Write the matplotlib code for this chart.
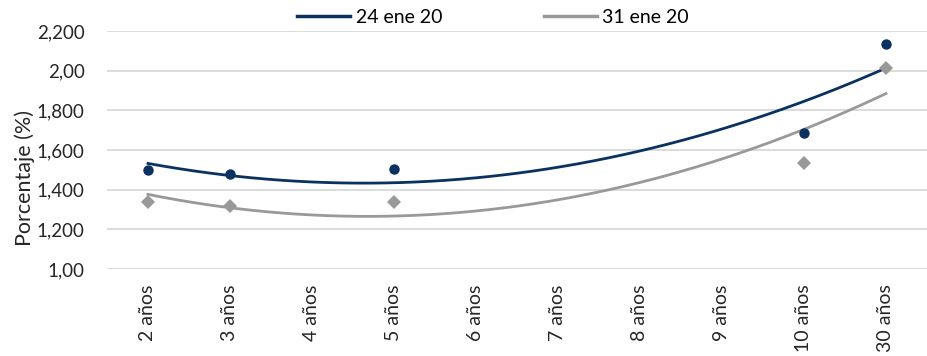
import numpy as np
import matplotlib.pyplot as plt
from matplotlib.lines import Line2D

plt.rcParams['font.family'] = ['Lato', 'DejaVu Sans']

plazos = ['2 años', '3 años', '4 años', '5 años', '6 años', '7 años',
          '8 años', '9 años', '10 años', '30 años']
# posiciones de los plazos con dato
idx = [0, 1, 3, 8, 9]
tasa_24ene = [1.499, 1.477, 1.504, 1.684, 2.133]
tasa_31ene = [1.339, 1.318, 1.339, 1.533, 2.012]
ytick_vals = [1.0, 1.2, 1.4, 1.6, 1.8, 2.0, 2.2]
ytick_txt = ['1,00', '1,200', '1,400', '1,600', '1,800', '2,00', '2,200']

azul = '#0b3160'
gris = '#999999'
txt = '#262626'

fig = plt.figure(figsize=(9.27, 3.56), dpi=100)
ax = fig.add_axes([0.1154, 0.2444, 0.8846, 0.6685])

# tendencia polinomica de orden 2 sobre cada serie
xs = np.linspace(0, 9, 200)
for vals, col, mk, ms in [(tasa_24ene, azul, 'o', 7.5), (tasa_31ene, gris, 'D', 7.5)]:
    coef = np.polyfit(idx, vals, 2)
    ax.plot(xs, np.polyval(coef, xs), color=col, lw=2, zorder=3)
    ax.plot(idx, vals, linestyle='none', marker=mk, ms=ms, color=col,
            markeredgewidth=0, zorder=4)

ax.set_xlim(-0.5, 9.5)
ax.set_ylim(1.0, 2.2)
ax.set_yticks(ytick_vals)
ax.set_yticklabels(ytick_txt, fontsize=13.5, color=txt)
ax.set_xticks(range(len(plazos)))
ax.set_xticklabels(plazos, rotation=90, fontsize=14, color=txt)
ax.tick_params(axis='y', length=0, pad=16)
ax.tick_params(axis='x', length=0, pad=11)
ax.grid(axis='y', color='#d9d9d9', lw=1.3)
ax.set_axisbelow(True)
for s in ax.spines.values():
    s.set_visible(False)

fig.text(0.027, 0.50, 'Porcentaje (%)', rotation=90, ha='center', va='center',
         fontsize=15.5, color=txt)

handles = [Line2D([], [], color=azul, lw=2.5), Line2D([], [], color=gris, lw=2.5)]
fig.legend(handles, ['24 ene 20', '31 ene 20'], loc='center', ncol=2,
           bbox_to_anchor=(0.532, 0.95), frameon=False, fontsize=14,
           handlelength=2.7, handletextpad=0.3, columnspacing=5.25)

fig.savefig('out.png', dpi=100)
